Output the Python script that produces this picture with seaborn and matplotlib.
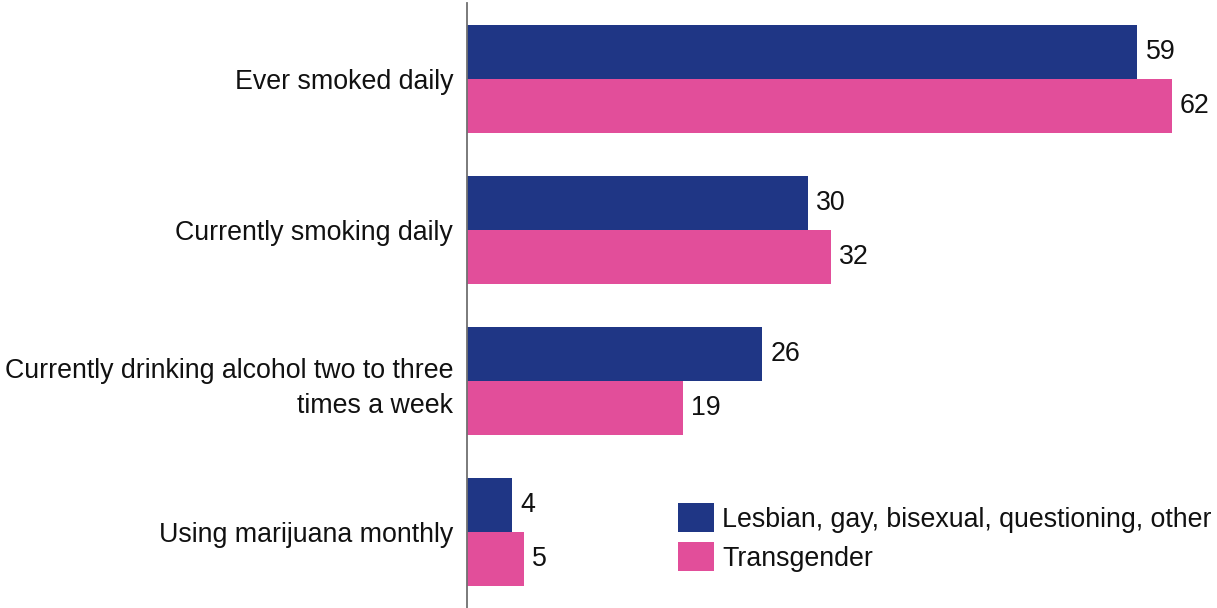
import matplotlib
matplotlib.use("Agg")
import matplotlib.pyplot as plt
import seaborn as sns
import pandas as pd

categories = [
    "Ever smoked daily",
    "Currently smoking daily",
    "Currently drinking alcohol two to three\ntimes a week",
    "Using marijuana monthly",
]
groups = ["Lesbian, gay, bisexual, questioning, other", "Transgender"]
lgbq_values = [59, 30, 26, 4]
trans_values = [62, 32, 19, 5]
colors = ["#1F3685", "#E24E9A"]

df = pd.DataFrame({
    "behaviour": categories * 2,
    "group": [groups[0]] * len(categories) + [groups[1]] * len(categories),
    "percent": lgbq_values + trans_values,
})

sns.set_theme(style="white")
plt.rcParams["font.family"] = ["Liberation Sans", "DejaVu Sans"]

FS = 19.3
TEXT = "#111111"

fig = plt.figure(figsize=(12.17, 6.08), dpi=100)
ax = fig.add_axes([467 / 1217, 0.0, 1 - 467 / 1217, 1 - 3 / 608])

sns.barplot(data=df, x="percent", y="behaviour", hue="group",
            order=categories, hue_order=groups, palette=colors,
            width=0.72, orient="h", saturation=1, linewidth=0,
            ax=ax, errorbar=None)

for container in ax.containers:
    ax.bar_label(container, fmt="%g", padding=6, fontsize=FS, color=TEXT)

ax.set_xlim(0, 66)
ax.set_ylim(3.503, -0.503)
ax.set_xlabel("")
ax.set_ylabel("")
ax.set_xticks([])
ax.tick_params(axis="y", length=0, pad=10, labelsize=FS, labelcolor=TEXT)
for lbl in ax.get_yticklabels():
    lbl.set_linespacing(1.45)
for side in ["top", "right", "bottom"]:
    ax.spines[side].set_visible(False)
ax.spines["left"].set_color("#707070")
ax.spines["left"].set_linewidth(1.3)

handles, labels = ax.get_legend_handles_labels()
ax.legend(handles, labels, loc="upper left",
          bbox_to_anchor=(678 / 1217, 1 - 503 / 608), bbox_transform=fig.transFigure,
          frameon=False, fontsize=FS, handlelength=1.34, handleheight=1.315,
          labelspacing=0.34, handletextpad=0.3, borderpad=0, borderaxespad=0,
          labelcolor=TEXT)

fig.savefig("out.png", dpi=100)
